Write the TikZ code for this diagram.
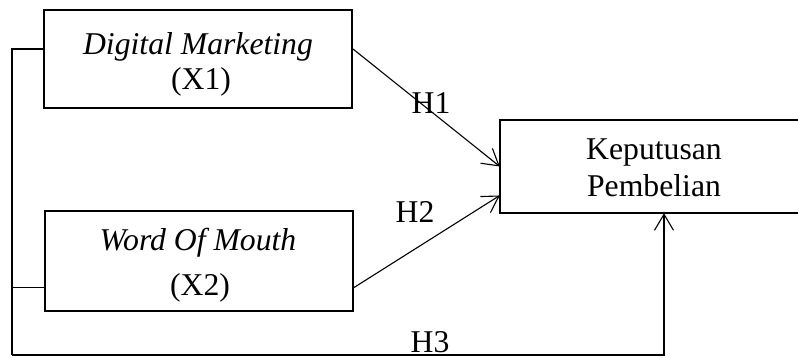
\documentclass[tikz,border=0pt]{standalone}
\usepackage{fontspec}
\setmainfont{Liberation Serif}
\usetikzlibrary{arrows.meta,calc}
\begin{document}
\begin{tikzpicture}[x=1pt,y=-1pt,
  varbox/.style={draw,line width=2pt,rectangle,inner sep=0pt},
  openbox/.style={rectangle,inner sep=0pt},
  lbl/.style={inner sep=0pt,anchor=base,font=\fontsize{31.7}{36}\selectfont},
  link/.style={line width=1.1pt},
  arr/.style={link,-{Straight Barb[length=16pt,width=19pt,line width=1.1pt]}}]
\useasboundingbox (0,0) rectangle (798,358);

% independent variable boxes
\node[varbox,minimum width=308pt,minimum height=98pt] (b1) at (198,59) {};
\node[varbox,minimum width=308pt,minimum height=100pt] (b2) at (199,261) {};
% dependent variable box, open where it meets the right edge
\node[openbox,minimum width=298pt,minimum height=93pt] (b3) at (649,166.5) {};
\draw[line width=2pt] (b3.north east) -- (b3.north west) -- (b3.south west) -- (b3.south east);

% box texts
\node[lbl] (t1a) at (198,55) {\textit{Digital Marketing}};
\node[lbl] (t1b) at (201,90) {(X1)};
\node[lbl] (t2a) at (198,251) {\textit{Word Of Mouth}};
\node[lbl] (t2b) at (200,295) {(X2)};
\node[lbl] (t3a) at (654,160) {Keputusan};
\node[lbl] (t3b) at (654,197) {Pembelian};

% attachment points on the box borders
\coordinate (p1e) at ($(b1.north east)!0.4!(b1.south east)$);
\coordinate (p1w) at ($(b1.north west)!0.4!(b1.south west)$);
\coordinate (p2e) at ($(b2.north east)!0.76!(b2.south east)$);
\coordinate (p2w) at ($(b2.north west)!0.76!(b2.south west)$);
\coordinate (p3a) at ($(b3.north west)!0.5!(b3.south west)$);
\coordinate (p3b) at ($(b3.north west)!0.81!(b3.south west)$);
\coordinate (p3s) at (664,0 |- b3.south);
\coordinate (lc) at (12,355);

% hypotheses
\draw[arr] (p1e) -- (p3a);
\draw[arr] (p2e) -- (p3b);
\draw[link] (p1w) -| (lc);
\draw[link] (p2w) -- (p2w -| lc);
\draw[arr] (lc) -| (p3s);

\node[lbl] (h1) at (431,114) {H1};
\node[lbl] (h2) at (415,223) {H2};
\node[lbl] (h3) at (430,352) {H3};
\end{tikzpicture}
\end{document}
